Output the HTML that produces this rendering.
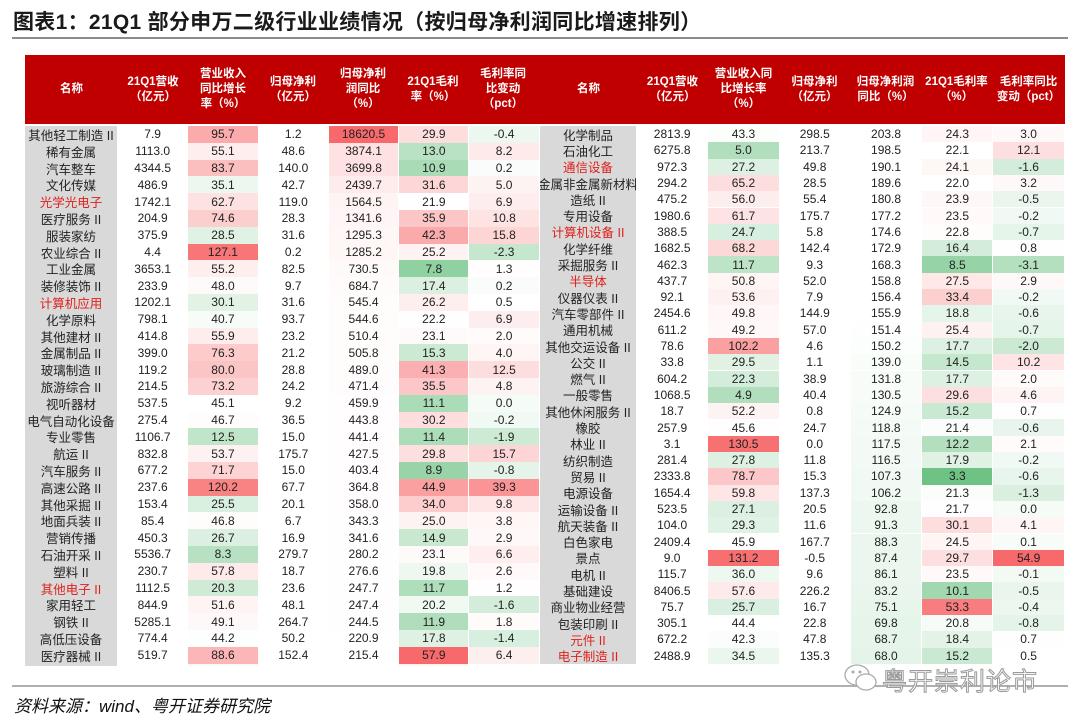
<!DOCTYPE html>
<html><head><meta charset="utf-8">
<style>
*{margin:0;padding:0;box-sizing:border-box}
body{width:1080px;height:726px;background:#fff;position:relative;overflow:hidden;font-family:"Liberation Sans","Noto Sans CJK SC",sans-serif;color:#222}
.title{position:absolute;left:13px;top:6px;font-size:21px;font-weight:bold;color:#1a1a1a;letter-spacing:0.3px}
.tline{position:absolute;left:12px;right:12px;top:37px;height:2px;background:#8c8c8c}
.hdr{position:absolute;top:55px;height:69px;background:#c00000}
.hdr div{position:absolute;top:0;height:69px;display:flex;align-items:center;justify-content:center;text-align:center;color:#fff;font-weight:bold;font-size:11.5px;line-height:15px}
.tb{position:absolute;top:126px;overflow:hidden}
.strip{position:absolute;left:0;top:0;bottom:0;background:#d9d9d9}
.row{position:absolute;left:0;display:flex}
.row div{flex:0 0 auto;height:100%;display:flex;align-items:center;justify-content:center;font-size:12px;border-right:1px solid #fff;white-space:nowrap;overflow:hidden}
.row div.n{background:transparent;font-size:12.5px;color:#222}
.red{color:#e0201c!important}
.bline{position:absolute;left:12px;right:12px;top:685px;height:2px;background:#b0b0b0}
.src{position:absolute;left:14px;top:692px;font-size:17px;font-style:italic;color:#111}
.wm{position:absolute;left:882px;top:662px;font-size:25px;color:#fff;-webkit-text-stroke:1px #9a9a9a;letter-spacing:1px}
</style></head><body>
<div class="title">图表1：21Q1 部分申万二级行业业绩情况（按归母净利润同比增速排列）</div>
<div class="tline"></div>
<div class="hdr" style="left:25px;width:1040px">
<div style="left:0;width:93px">名称</div>
<div style="left:93px;width:70px">21Q1营收<br>（亿元）</div>
<div style="left:163px;width:70px">营业收入<br>同比增长<br>率（%）</div>
<div style="left:233px;width:70px">归母净利<br>（亿元）</div>
<div style="left:303px;width:70px">归母净利<br>润同比<br>（%）</div>
<div style="left:373px;width:70px">21Q1毛利<br>率（%）</div>
<div style="left:443px;width:70px">毛利率同<br>比变动<br>（pct）</div>
<div style="left:515px;width:97px">名称</div>
<div style="left:612px;width:71px">21Q1营收<br>（亿元）</div>
<div style="left:683px;width:71px">营业收入同<br>比增长率<br>（%）</div>
<div style="left:754px;width:71px">归母净利<br>（亿元）</div>
<div style="left:825px;width:71px">归母净利润<br>同比（%）</div>
<div style="left:896px;width:71px">21Q1毛利率<br>（%）</div>
<div style="left:967px;width:73px">毛利率同比<br>变动（pct）</div>
</div>
<div class="tb" id="L" style="left:25px;width:515px;height:540px"></div>
<div class="tb" id="R" style="left:540px;width:525px;height:538px"></div>
<div class="bline"></div>
<div class="src">资料来源：wind、粤开证券研究院</div>
<svg style="position:absolute;left:843px;top:662px" width="36" height="32"><ellipse cx="14" cy="13" rx="12" ry="10" fill="none" stroke="#aaa" stroke-width="1.3"/><ellipse cx="23" cy="20" rx="10" ry="8" fill="#fff" stroke="#aaa" stroke-width="1.3"/><circle cx="10" cy="10" r="1.5" fill="#aaa"/><circle cx="17" cy="10" r="1.5" fill="#aaa"/></svg>
<div class="wm">粤开崇利论市</div>
<script>
const L=`其他轻工制造II|7.9|95.7|1.2|18620.5|29.9|-0.4
稀有金属|1113.0|55.1|48.6|3874.1|13.0|8.2
汽车整车|4344.5|83.7|140.0|3699.8|10.9|0.2
文化传媒|486.9|35.1|42.7|2439.7|31.6|5.0
*光学光电子|1742.1|62.7|119.0|1564.5|21.9|6.9
医疗服务II|204.9|74.6|28.3|1341.6|35.9|10.8
服装家纺|375.9|28.5|31.6|1295.3|42.3|15.8
农业综合II|4.4|127.1|0.2|1285.2|25.2|-2.3
工业金属|3653.1|55.2|82.5|730.5|7.8|1.3
装修装饰II|233.9|48.0|9.7|684.7|17.4|0.2
*计算机应用|1202.1|30.1|31.6|545.4|26.2|0.5
化学原料|798.1|40.7|93.7|544.6|22.2|6.9
其他建材II|414.8|55.9|23.2|510.4|23.1|2.0
金属制品II|399.0|76.3|21.2|505.8|15.3|4.0
玻璃制造II|119.2|80.0|28.8|489.0|41.3|12.5
旅游综合II|214.5|73.2|24.2|471.4|35.5|4.8
视听器材|537.5|45.1|9.2|459.9|11.1|0.0
电气自动化设备|275.4|46.7|36.5|443.8|30.2|-0.2
专业零售|1106.7|12.5|15.0|441.4|11.4|-1.9
航运II|832.8|53.7|175.7|427.5|29.8|15.7
汽车服务II|677.2|71.7|15.0|403.4|8.9|-0.8
高速公路II|237.6|120.2|67.7|364.8|44.9|39.3
其他采掘II|153.4|25.5|20.1|358.0|34.0|9.8
地面兵装II|85.4|46.8|6.7|343.3|25.0|3.8
营销传播|450.3|26.7|16.9|341.6|14.9|2.9
石油开采II|5536.7|8.3|279.7|280.2|23.1|6.6
塑料II|230.7|57.8|18.7|276.6|19.8|2.6
*其他电子II|1112.5|20.3|23.6|247.7|11.7|1.2
家用轻工|844.9|51.6|48.1|247.4|20.2|-1.6
钢铁II|5285.1|49.1|264.7|244.5|11.9|1.8
高低压设备|774.4|44.2|50.2|220.9|17.8|-1.4
医疗器械II|519.7|88.6|152.4|215.4|57.9|6.4
非金属材料II|306.1|40.6|22.1|210.3|25.1|0.4`;
const R=`化学制品|2813.9|43.3|298.5|203.8|24.3|3.0
石油化工|6275.8|5.0|213.7|198.5|22.1|12.1
*通信设备|972.3|27.2|49.8|190.1|24.1|-1.6
金属非金属新材料|294.2|65.2|28.5|189.6|22.0|3.2
造纸II|475.2|56.0|55.4|180.8|23.9|-0.5
专用设备|1980.6|61.7|175.7|177.2|23.5|-0.2
*计算机设备II|388.5|24.7|5.8|174.6|22.8|-0.7
化学纤维|1682.5|68.2|142.4|172.9|16.4|0.8
采掘服务II|462.3|11.7|9.3|168.3|8.5|-3.1
*半导体|437.7|50.8|52.0|158.8|27.5|2.9
仪器仪表II|92.1|53.6|7.9|156.4|33.4|-0.2
汽车零部件II|2454.6|49.8|144.9|155.9|18.8|-0.6
通用机械|611.2|49.2|57.0|151.4|25.4|-0.7
其他交运设备II|78.6|102.2|4.6|150.2|17.7|-2.0
公交II|33.8|29.5|1.1|139.0|14.5|10.2
燃气II|604.2|22.3|38.9|131.8|17.7|2.0
一般零售|1068.5|4.9|40.4|130.5|29.6|4.6
其他休闲服务II|18.7|52.2|0.8|124.9|15.2|0.7
橡胶|257.9|45.6|24.7|118.8|21.4|-0.6
林业II|3.1|130.5|0.0|117.5|12.2|2.1
纺织制造|281.4|27.8|11.8|116.5|17.9|-0.2
贸易II|2333.8|78.7|15.3|107.3|3.3|-0.6
电源设备|1654.4|59.8|137.3|106.2|21.3|-1.3
运输设备II|523.5|27.1|20.5|92.8|21.7|0.0
航天装备II|104.0|29.3|11.6|91.3|30.1|4.1
白色家电|2409.4|45.9|167.7|88.3|24.5|0.1
景点|9.0|131.2|-0.5|87.4|29.7|54.9
电机II|115.7|36.0|9.6|86.1|23.5|-0.1
基础建设|8406.5|57.6|226.2|83.2|10.1|-0.5
商业物业经营|75.7|25.7|16.7|75.1|53.3|-0.4
包装印刷II|305.1|44.4|22.8|69.8|20.8|-0.8
*元件II|672.2|42.3|47.8|68.7|18.4|0.7
*电子制造II|2488.9|34.5|135.3|68.0|15.2|0.5`;
const pl=t=>t.split('\n').map(l=>l.split('|'));
const lr=pl(L),rr=pl(R);
const sc={2:{mn:-35,md:45,mx:135},4:{mn:-400,md:160,mx:18620.5},5:{mn:2,md:22,mx:58},6:{mn:-7,md:0.5,mx:55}};
function col(c,x){if(!sc[c])return '#fff';const s=sc[c];let b,t;
 if(x>=s.md){t=(x-s.md)/(s.mx-s.md);b=[248,105,107];}
 else{t=(s.md-x)/(s.md-s.mn);b=[99,190,123];}
 t=Math.max(0,Math.min(1,t));
 return 'rgb('+[255,255,255].map((v,i)=>Math.round(v+(b[i]-v)*t)).join(',')+')';}
function build(id,rows,nw,cw,h){const el=document.getElementById(id);let html='<div class="strip" style="width:'+(nw-1)+'px"></div>';
 rows.forEach((r,i)=>{let nm=r[0],red=false;if(nm[0]=='*'){red=true;nm=nm.slice(1);}
  html+='<div class="row" style="top:'+(i*h)+'px;height:'+h+'px">';
  html+='<div class="n'+(red?' red':'')+'" style="width:'+nw+'px">'+nm.replace('II',' II')+'</div>';
  for(let c=1;c<=6;c++)html+='<div style="width:'+cw+'px;background:'+col(c,+r[c])+'">'+r[c]+'</div>';
  html+='</div>';});
 el.innerHTML=html;}
build('L',lr,93,70.3,16.8);
build('R',rr,97,71.3,16.3);
</script>
</body></html>
